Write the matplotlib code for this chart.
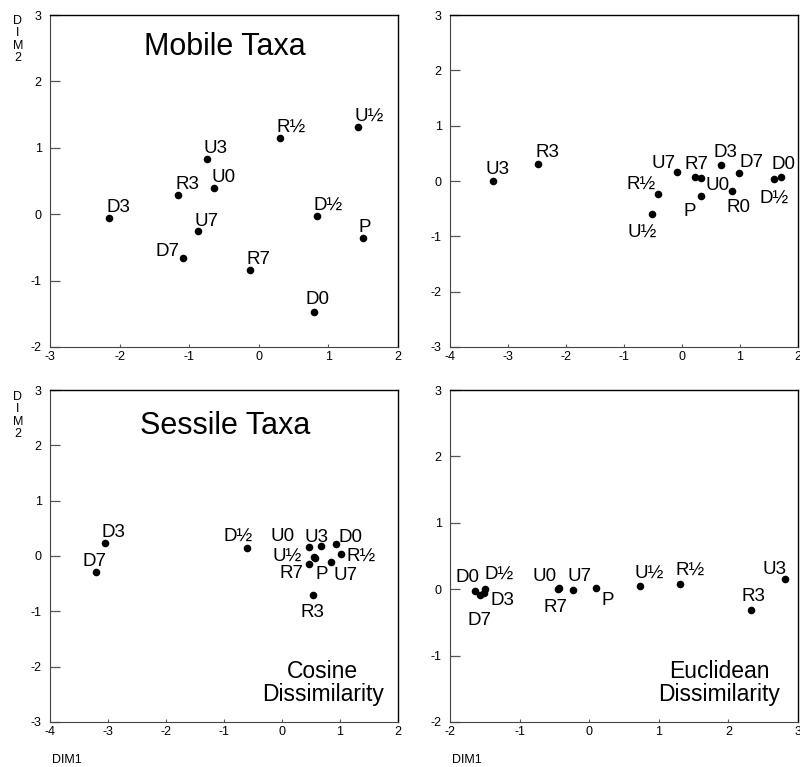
import matplotlib
matplotlib.use('Agg')
import matplotlib.pyplot as plt

plt.rcParams['font.family'] = ['Liberation Sans', 'DejaVu Sans']
plt.rcParams['axes.unicode_minus'] = False

# Mobile taxa, cosine dissimilarity (top left)
mc_labels = ['D3', 'R3', 'U3', 'U0', 'U7', 'D7', 'R7', 'R½', 'U½', 'D½', 'P', 'D0']
mc_dim1 = [-2.15, -1.16, -0.74, -0.64, -0.88, -1.09, -0.12, 0.30, 1.42, 0.84, 1.49, 0.80]
mc_dim2 = [-0.05, 0.29, 0.83, 0.40, -0.26, -0.66, -0.84, 1.15, 1.31, -0.02, -0.36, -1.47]

# Mobile taxa, euclidean dissimilarity (top right)
me_labels = ['U3', 'R3', 'U7', 'R7', 'U0', 'R½', 'U½', 'P', 'D3', 'D7', 'R0', 'D½', 'D0']
me_dim1 = [-3.26, -2.48, -0.09, 0.22, 0.33, -0.41, -0.51, 0.32, 0.68, 0.98, 0.87, 1.59, 1.71]
me_dim2 = [0.00, 0.31, 0.17, 0.08, 0.06, -0.24, -0.59, -0.27, 0.29, 0.15, -0.18, 0.03, 0.08]

# Sessile taxa, cosine dissimilarity (bottom left)
sc_labels = ['D3', 'D7', 'D½', 'U0', 'U3', 'D0', 'U½', 'P', 'R½', 'R7', 'U7', 'R3']
sc_dim1 = [-3.05, -3.20, -0.61, 0.47, 0.68, 0.93, 0.55, 0.57, 1.01, 0.47, 0.84, 0.53]
sc_dim2 = [0.24, -0.29, 0.14, 0.17, 0.18, 0.21, -0.01, -0.04, 0.03, -0.15, -0.11, -0.71]

# Sessile taxa, euclidean dissimilarity (bottom right)
se_labels = ['D0', 'D½', 'D3', 'D7', 'U0', 'R7', 'U7', 'P', 'U½', 'R½', 'R3', 'U3']
se_dim1 = [-1.64, -1.50, -1.51, -1.57, -0.44, -0.45, -0.23, 0.10, 0.73, 1.31, 2.33, 2.81]
se_dim2 = [-0.03, 0.00, -0.06, -0.09, 0.02, 0.01, -0.01, 0.02, 0.05, 0.08, -0.32, 0.15]

# label placement (pixel offsets of label centre from its point)
mc_offsets = [(9, 12.3), (9, 12.3), (8.7, 13), (9.3, 12), (8.7, 12), (-15.7, 8.3),
              (8, 12.3), (11.3, 12.3), (11.7, 12.7), (11, 12.7), (2.7, 13), (2.7, 14)]
me_offsets = [(4.3, 13.7), (9, 13), (-13.7, 9.7), (2, 13.7), (16.7, -6), (-16.7, 12),
              (-10, -16.3), (-11, -13.7), (3.7, 14), (12.3, 12.3), (5.7, -14.7),
              (-0.3, -17.3), (2.7, 14.3)]
sc_offsets = [(8.7, 12), (-1.7, 12.7), (-8.3, 14), (-26.6, 11.7), (-5, 11), (14.3, 9),
              (-27, 2), (6.5, -14), (20.7, 0), (-17.7, -7.3), (15, -11.3), (0, -15.7)]
se_offsets = [(-7.3, 15.7), (14, 16.6), (18.3, -5.3), (0, -23.3), (-14, 13.7), (-2.3, -17),
              (6.3, 15.4), (12, -10.7), (9.3, 15), (9.4, 15.4), (2, 16), (-10.6, 11.7)]


def draw_panel(ax, labels, xs, ys, offsets, xlim, ylim):
    ax.scatter(xs, ys, s=30, color='black', linewidths=0, zorder=3)
    for lab, x, y, (dx, dy) in zip(labels, xs, ys, offsets):
        ax.annotate(lab, (x, y), xytext=(dx, dy - 6.5), textcoords='offset pixels',
                    ha='center', va='baseline', fontsize=13.5)
    ax.set_xlim(*xlim)
    ax.set_ylim(*ylim)
    ax.set_xticks(range(xlim[0], xlim[1] + 1))
    ax.set_yticks(range(ylim[0], ylim[1] + 1))
    ax.tick_params(axis='y', direction='in', length=7, width=0.9, pad=6,
                   labelsize=9, color='#555555')
    ax.tick_params(axis='x', direction='in', length=2, width=0.8, pad=3,
                   labelsize=9, color='#555555')
    for side in ['top', 'right']:
        ax.spines[side].set_color('black')
        ax.spines[side].set_linewidth(1.0)
    for side in ['left', 'bottom']:
        ax.spines[side].set_color('#444444')
        ax.spines[side].set_linewidth(0.8)


fig = plt.figure(figsize=(8, 7.67), dpi=100)

w, h = 0.435, 0.4328
ax_tl = fig.add_axes([0.0625, 0.5476, w, h])
ax_tr = fig.add_axes([0.5625, 0.5476, w, h])
ax_bl = fig.add_axes([0.0625, 0.0587, w, h])
ax_br = fig.add_axes([0.5625, 0.0587, w, h])

draw_panel(ax_tl, mc_labels, mc_dim1, mc_dim2, mc_offsets, (-3, 2), (-2, 3))
draw_panel(ax_tr, me_labels, me_dim1, me_dim2, me_offsets, (-4, 2), (-3, 3))
draw_panel(ax_bl, sc_labels, sc_dim1, sc_dim2, sc_offsets, (-4, 2), (-3, 3))
draw_panel(ax_br, se_labels, se_dim1, se_dim2, se_offsets, (-2, 3), (-2, 3))

ax_tl.text(0.503, 0.905, 'Mobile Taxa', transform=ax_tl.transAxes,
           ha='center', va='center', fontsize=22)
ax_bl.text(0.503, 0.892, 'Sessile Taxa', transform=ax_bl.transAxes,
           ha='center', va='center', fontsize=22)
ax_bl.text(0.784, 0.117, 'Cosine\nDissimilarity', transform=ax_bl.transAxes,
           ha='center', va='center', fontsize=16.5, linespacing=1.0)
ax_br.text(0.773, 0.117, 'Euclidean\nDissimilarity', transform=ax_br.transAxes,
           ha='center', va='center', fontsize=16.5, linespacing=1.0)

# axis titles
fig.text(18 / 800, 1 - 15 / 767, 'D\nI\nM\n2', ha='center', va='top', fontsize=9, linespacing=1.05)
fig.text(18 / 800, 1 - 391 / 767, 'D\nI\nM\n2', ha='center', va='top', fontsize=9, linespacing=1.05)
fig.text(52 / 800, 1 - 766 / 767, 'DIM1', ha='left', va='bottom', fontsize=9)
fig.text(452 / 800, 1 - 766 / 767, 'DIM1', ha='left', va='bottom', fontsize=9)

fig.savefig('out.png', dpi=100)
plt.close(fig)
